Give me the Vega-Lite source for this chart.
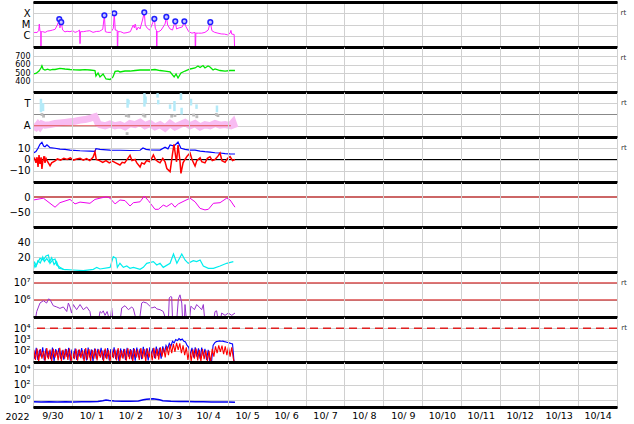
{
"$schema": "https://vega.github.io/schema/vega-lite/v6.json",
"padding": {"left": 0, "top": 1, "right": 0, "bottom": 0},
"background": "white",
"spacing": 0,
"bounds": "flush",
"datasets": {
"xr": [{"h":0,"v":1.7e-6},{"h":1.2,"v":2e-6},{"h":2.5,"v":1.9e-6},{"h":3.5,"v":3e-6},{"h":3.9,"v":1.1e-5},{"h":4.3,"v":2.5e-6},{"h":4.8,"v":2.3e-6},{"h":4.9,"v":1e-8},{"h":5.05,"v":2.3e-6},{"h":6,"v":2.3e-6},{"h":7.5,"v":2e-6},{"h":9,"v":2.6e-6},{"h":10.5,"v":2.8e-6},{"h":12,"v":3.2e-6},{"h":13.6,"v":3.7e-6},{"h":15,"v":9e-6},{"h":16.2,"v":3.1e-5},{"h":16.6,"v":5e-6},{"h":17.4,"v":1.6e-5},{"h":18.3,"v":3.2e-6},{"h":19.7,"v":2.2e-6},{"h":21,"v":2.5e-6},{"h":22.8,"v":2.3e-6},{"h":24.5,"v":2.8e-6},{"h":25.9,"v":2e-6},{"h":27.5,"v":2.4e-6},{"h":28.7,"v":3.2e-6},{"h":29,"v":2e-7},{"h":29.3,"v":2.3e-6},{"h":31,"v":2.3e-6},{"h":33,"v":2.6e-6},{"h":35,"v":2.8e-6},{"h":37,"v":2e-6},{"h":39,"v":2.4e-6},{"h":41,"v":2.5e-6},{"h":43,"v":3.7e-6},{"h":44,"v":6.6e-5},{"h":44.6,"v":2.3e-6},{"h":46,"v":2e-6},{"h":48,"v":2e-6},{"h":49.5,"v":4.6e-6},{"h":50.1,"v":1e-4},{"h":50.7,"v":3.2e-6},{"h":51.9,"v":3e-6},{"h":52.1,"v":1e-8},{"h":52.4,"v":2.3e-6},{"h":54,"v":2.3e-6},{"h":56,"v":1.7e-6},{"h":58,"v":1.9e-6},{"h":60,"v":2.3e-6},{"h":61.8,"v":9e-6},{"h":62.5,"v":5e-6},{"h":63,"v":1.1e-5},{"h":63.9,"v":3.2e-6},{"h":65,"v":6e-6},{"h":66,"v":4e-6},{"h":67.5,"v":2.5e-5},{"h":68.6,"v":1.2e-4},{"h":69.2,"v":9e-6},{"h":70.5,"v":4.6e-6},{"h":72,"v":3.2e-6},{"h":73.5,"v":1.1e-5},{"h":74.8,"v":3.2e-5},{"h":75.4,"v":4.6e-6},{"h":76.1,"v":3e-6},{"h":76.3,"v":1e-8},{"h":76.5,"v":2.3e-6},{"h":77.5,"v":2.3e-6},{"h":79,"v":3.2e-6},{"h":81.4,"v":1.1e-5},{"h":82.2,"v":4.7e-5},{"h":83,"v":9e-6},{"h":84.5,"v":4e-6},{"h":86,"v":3.2e-6},{"h":86.9,"v":9e-6},{"h":87.7,"v":1.9e-5},{"h":88.5,"v":4e-6},{"h":90,"v":5e-6},{"h":92,"v":6e-6},{"h":93.3,"v":1.9e-5},{"h":94.3,"v":6.4e-6},{"h":96,"v":2.3e-6},{"h":98,"v":1.7e-6},{"h":99.9,"v":2e-6},{"h":100.1,"v":1e-8},{"h":100.4,"v":1.7e-6},{"h":102,"v":1.7e-6},{"h":104,"v":1.7e-6},{"h":106,"v":2e-6},{"h":108,"v":3.2e-6},{"h":109.3,"v":1.6e-5},{"h":110.3,"v":2.8e-6},{"h":112,"v":2e-6},{"h":114,"v":1.7e-6},{"h":116,"v":1.45e-6},{"h":118,"v":1.4e-6},{"h":120,"v":1.2e-6},{"h":121.5,"v":1.7e-6},{"h":122,"v":3e-6},{"h":122.5,"v":1.4e-6},{"h":124,"v":1.3e-6},{"h":124.5,"v":1e-8}],
"fl": [{"h":16.2,"v":3.1e-5},{"h":17.4,"v":1.6e-5},{"h":44,"v":6.6e-5},{"h":50.1,"v":1e-4},{"h":68.6,"v":1.2e-4},{"h":74.8,"v":3.2e-5},{"h":82.2,"v":4.7e-5},{"h":87.7,"v":1.9e-5},{"h":93.3,"v":1.9e-5},{"h":109.3,"v":1.6e-5}],
"sw": [{"h":0,"v":491},{"h":1.8,"v":497},{"h":3.7,"v":526},{"h":4.9,"v":562},{"h":5.5,"v":589},{"h":6.2,"v":550},{"h":7.4,"v":538},{"h":9,"v":548},{"h":10.5,"v":538},{"h":12,"v":546},{"h":13.6,"v":544},{"h":16.6,"v":558},{"h":19.7,"v":550},{"h":22.8,"v":544},{"h":25.9,"v":540},{"h":29,"v":538},{"h":32,"v":542},{"h":35.1,"v":538},{"h":38.2,"v":532},{"h":38.8,"v":467},{"h":40.1,"v":503},{"h":41.3,"v":456},{"h":43.2,"v":491},{"h":45,"v":432},{"h":47.5,"v":426},{"h":49.3,"v":456},{"h":50.6,"v":521},{"h":52.4,"v":526},{"h":53.6,"v":515},{"h":56.7,"v":526},{"h":59.8,"v":526},{"h":62.9,"v":532},{"h":66,"v":538},{"h":69,"v":538},{"h":72.1,"v":538},{"h":75.2,"v":544},{"h":78.3,"v":532},{"h":81.4,"v":526},{"h":84.5,"v":515},{"h":87,"v":456},{"h":88.2,"v":491},{"h":89.4,"v":444},{"h":91.2,"v":503},{"h":93.7,"v":526},{"h":96.8,"v":550},{"h":99.9,"v":562},{"h":101.7,"v":585},{"h":103,"v":568},{"h":104.8,"v":591},{"h":106,"v":562},{"h":107.9,"v":585},{"h":109.1,"v":574},{"h":111,"v":538},{"h":112.2,"v":550},{"h":115.3,"v":532},{"h":118.4,"v":526},{"h":121.5,"v":532},{"h":124.5,"v":532}],
"pk": [{"h":0,"v":1.0},{"h":1.8,"v":0.85},{"h":3.1,"v":1.1},{"h":4.3,"v":0.9},{"h":5.5,"v":1.15},{"h":7.4,"v":1.05},{"h":10.5,"v":1.1},{"h":13.6,"v":1.2},{"h":16.6,"v":1.25},{"h":19.7,"v":1.3},{"h":22.8,"v":1.35},{"h":25.9,"v":1.4},{"h":29,"v":1.5},{"h":32,"v":1.55},{"h":35.1,"v":1.65},{"h":37,"v":1.75},{"h":38.2,"v":1.8},{"h":39.5,"v":1.4},{"h":40.1,"v":1.2},{"h":41.3,"v":1.1},{"h":44.4,"v":1.0},{"h":47.5,"v":1.15},{"h":50.6,"v":1.0},{"h":53.6,"v":1.1},{"h":56.7,"v":0.9},{"h":59.8,"v":1.2},{"h":62.9,"v":1.1},{"h":66,"v":1.3},{"h":69,"v":1.0},{"h":72.1,"v":1.2},{"h":75.2,"v":0.9},{"h":78.3,"v":1.1},{"h":81.4,"v":0.8},{"h":84.5,"v":1.2},{"h":87.5,"v":0.9},{"h":90.6,"v":1.1},{"h":93.7,"v":1.3},{"h":96.8,"v":1.0},{"h":99.9,"v":1.2},{"h":103,"v":0.9},{"h":106,"v":1.1},{"h":109.1,"v":1.0},{"h":112.2,"v":1.2},{"h":115.3,"v":1.05},{"h":118.4,"v":1.1},{"h":121.5,"v":1.0},{"h":123.3,"v":1.3},{"h":124.5,"v":0.8}],
"lb": [{"h":4.9,"v":2.2,"v2":3.4},{"h":6.2,"v":2.3,"v2":3.0},{"h":58.3,"v":2.6,"v2":3.4},{"h":58.9,"v":2.9,"v2":3.3},{"h":68.7,"v":2.7,"v2":3.9},{"h":69.4,"v":3.0,"v2":3.6},{"h":76.8,"v":3.5,"v2":3.9},{"h":77.2,"v":2.9,"v2":3.3},{"h":84.5,"v":2.5,"v2":2.9},{"h":87.2,"v":2.3,"v2":3.2},{"h":91.2,"v":3.3,"v2":3.9},{"h":91.6,"v":2.0,"v2":2.6},{"h":97.4,"v":2.8,"v2":3.4},{"h":100.8,"v":2.5,"v2":2.9},{"h":113.4,"v":2.2,"v2":2.8}],
"gr": [{"h":5.5,"v":2.0},{"h":6.5,"v":1.85},{"h":57.5,"v":1.9},{"h":59,"v":1.85},{"h":68,"v":1.95},{"h":69,"v":1.85},{"h":85.5,"v":1.85},{"h":87.5,"v":1.9},{"h":99,"v":1.95},{"h":101,"v":1.8},{"h":113,"v":2.0},{"h":114,"v":1.9},{"h":58,"v":0.3}],
"aline": [{"h":0,"v":1},{"h":122,"v":1}],
"mid3": [{"v":2}],
"bt": [{"h":0,"v":5.5},{"h":1.8,"v":7},{"h":3.1,"v":10},{"h":4.3,"v":13.5},{"h":5.5,"v":15.3},{"h":6.5,"v":12},{"h":7.4,"v":11.4},{"h":8.6,"v":13},{"h":10.5,"v":10.5},{"h":13.6,"v":10},{"h":16.6,"v":9.3},{"h":19.7,"v":9},{"h":22.8,"v":8.4},{"h":29,"v":7.8},{"h":35.1,"v":7.5},{"h":38.2,"v":7.3},{"h":38.8,"v":9.6},{"h":41.3,"v":9},{"h":47.5,"v":8.4},{"h":53.6,"v":8.2},{"h":59.8,"v":8},{"h":66,"v":8.2},{"h":67.8,"v":10.2},{"h":69.7,"v":9},{"h":72.1,"v":8.5},{"h":78.3,"v":8.4},{"h":81.4,"v":11},{"h":83.2,"v":9.5},{"h":84.5,"v":13},{"h":87,"v":12},{"h":89.4,"v":15.5},{"h":91.2,"v":10},{"h":93.7,"v":9},{"h":96.8,"v":8.4},{"h":99.9,"v":8.4},{"h":103,"v":7.5},{"h":106,"v":7},{"h":109.1,"v":6.6},{"h":112.2,"v":6},{"h":115.3,"v":5.8},{"h":118.4,"v":5.3},{"h":121.5,"v":5},{"h":124.5,"v":4.9}],
"bz": [{"h":0,"v":-0.7},{"h":1,"v":1},{"h":1.8,"v":-3},{"h":2.5,"v":2},{"h":3.1,"v":-6.7},{"h":3.7,"v":4},{"h":4.3,"v":-4},{"h":5,"v":2},{"h":5.5,"v":-8.4},{"h":6,"v":-2},{"h":6.8,"v":3},{"h":7.4,"v":-3},{"h":8,"v":1},{"h":9,"v":-2},{"h":10.5,"v":-5.5},{"h":11.5,"v":-3},{"h":13.6,"v":-1.3},{"h":15,"v":0.5},{"h":17,"v":-0.5},{"h":19,"v":1},{"h":21,"v":0},{"h":23,"v":1.5},{"h":25,"v":-0.5},{"h":27,"v":0.5},{"h":29,"v":1},{"h":31,"v":-0.5},{"h":33,"v":0.8},{"h":35,"v":-1},{"h":37,"v":2},{"h":38.2,"v":6.7},{"h":39,"v":0},{"h":41,"v":-1},{"h":43,"v":-2.5},{"h":45,"v":-1},{"h":47,"v":-3},{"h":49,"v":-1.5},{"h":51,"v":-3},{"h":53.6,"v":-4.9},{"h":55,"v":-2.5},{"h":56.5,"v":-3},{"h":58.5,"v":1},{"h":59.8,"v":3.7},{"h":61,"v":-1},{"h":62.9,"v":0},{"h":64,"v":-3},{"h":66,"v":-6.7},{"h":67,"v":-3},{"h":68.6,"v":-4},{"h":70,"v":-1},{"h":72.1,"v":-2},{"h":74.2,"v":4},{"h":75.5,"v":0},{"h":77,"v":-2},{"h":78.3,"v":-3},{"h":80,"v":1},{"h":81.4,"v":-2},{"h":82.5,"v":-8},{"h":84.5,"v":-10.8},{"h":86,"v":5},{"h":86.9,"v":13.5},{"h":88,"v":2},{"h":88.5,"v":-2},{"h":89.4,"v":12.9},{"h":90.5,"v":0},{"h":91.2,"v":-12.3},{"h":92.5,"v":-3},{"h":93.7,"v":0},{"h":95,"v":3},{"h":96.8,"v":5.8},{"h":98,"v":0},{"h":99.9,"v":-5.8},{"h":101,"v":-1},{"h":103,"v":1.5},{"h":104,"v":-2},{"h":106,"v":-3},{"h":107.5,"v":1},{"h":109.1,"v":2.5},{"h":110.5,"v":-1},{"h":112.2,"v":0},{"h":114,"v":3},{"h":115.3,"v":5.8},{"h":116.5,"v":-1},{"h":118.4,"v":-2.5},{"h":120,"v":1},{"h":121.5,"v":2.5},{"h":123,"v":-1},{"h":124.5,"v":0}],
"zero": [{"v":0}],
"dst": [{"h":0.2,"v":-10},{"h":6.4,"v":-4},{"h":13.6,"v":-34},{"h":16.6,"v":-19},{"h":22.8,"v":-8},{"h":25.9,"v":-23},{"h":29,"v":-17},{"h":35.1,"v":-21},{"h":38.2,"v":-8},{"h":41.3,"v":-4},{"h":45.4,"v":1},{"h":47.5,"v":-4},{"h":50.6,"v":-23},{"h":53.6,"v":-10},{"h":56.7,"v":-12},{"h":59.8,"v":-30},{"h":61.9,"v":-19},{"h":66,"v":-16},{"h":68.6,"v":3},{"h":71.1,"v":-12},{"h":75.2,"v":-41},{"h":77.3,"v":-41},{"h":80.3,"v":-27},{"h":82.4,"v":-32},{"h":85.5,"v":-21},{"h":87.5,"v":-34},{"h":89.6,"v":-23},{"h":93.7,"v":-12},{"h":96.8,"v":-4},{"h":99.9,"v":-16},{"h":103,"v":-38},{"h":106,"v":-43},{"h":108.1,"v":-41},{"h":111.2,"v":-21},{"h":115.3,"v":-19},{"h":119.4,"v":-4},{"h":121.5,"v":-10},{"h":124.5,"v":-34}],
"np": [{"s":"a","h":0.2,"v":13.8},{"s":"a","h":1.2,"v":6.2},{"s":"a","h":2.7,"v":11.6},{"s":"a","h":4.3,"v":18.2},{"s":"a","h":6.4,"v":16},{"s":"a","h":8,"v":21.3},{"s":"a","h":9.5,"v":22.7},{"s":"a","h":10.5,"v":11.6},{"s":"a","h":12.1,"v":16},{"s":"a","h":13.6,"v":17.3},{"s":"a","h":14.6,"v":9.3},{"s":"a","h":16.6,"v":6.2},{"s":"a","h":18.7,"v":3.6},{"s":"a","h":24.8,"v":2.7},{"s":"a","h":31,"v":1.8},{"s":"a","h":37.2,"v":3.6},{"s":"a","h":39.3,"v":6.2},{"s":"a","h":41.3,"v":4},{"s":"a","h":47.5,"v":6.2},{"s":"a","h":49.5,"v":20.4},{"s":"a","h":51.2,"v":18.2},{"s":"a","h":52,"v":6.2},{"s":"a","h":53.6,"v":11.6},{"s":"a","h":55.7,"v":6.2},{"s":"a","h":57.8,"v":8},{"s":"a","h":59.8,"v":5},{"s":"a","h":61.9,"v":6.2},{"s":"a","h":66,"v":3.6},{"s":"a","h":68,"v":6.2},{"s":"a","h":70.1,"v":11.6},{"s":"a","h":74.2,"v":13.8},{"s":"a","h":76.3,"v":9.3},{"s":"a","h":78.3,"v":11.6},{"s":"a","h":80.3,"v":6.2},{"s":"a","h":84.5,"v":11.6},{"s":"a","h":86.6,"v":24},{"s":"a","h":88.7,"v":11.6},{"s":"a","h":91.7,"v":24},{"s":"a","h":93.7,"v":16},{"s":"a","h":95.7,"v":11.6},{"s":"a","h":98.8,"v":15.1},{"s":"a","h":100.9,"v":13.8},{"s":"a","h":103,"v":16},{"s":"a","h":105,"v":8},{"s":"a","h":108.1,"v":4.9},{"s":"a","h":111.2,"v":4.9},{"s":"a","h":115.3,"v":8},{"s":"a","h":119.4,"v":11.6},{"s":"a","h":123.5,"v":13.8},{"s":"b","h":0,"v":10},{"s":"b","h":1,"v":13},{"s":"b","h":2,"v":8},{"s":"b","h":3,"v":15},{"s":"b","h":4.5,"v":12},{"s":"b","h":6,"v":20},{"s":"b","h":7,"v":14},{"s":"b","h":8.5,"v":18},{"s":"b","h":10,"v":13},{"s":"b","h":11.5,"v":19},{"s":"b","h":13,"v":10},{"s":"b","h":14.5,"v":14},{"s":"b","h":16,"v":5},{"s":"b","h":18,"v":4},{"s":"b","h":20,"v":3}],
"el": [{"h":0.2,"v":5e4},{"h":1.2,"v":5e4},{"h":2.3,"v":2.1e5},{"h":4.3,"v":6.6e5},{"h":6.4,"v":9.1e5},{"h":8.4,"v":6.6e5},{"h":9.5,"v":1.15e6},{"h":10.5,"v":1.05e6},{"h":12.5,"v":4.6e5},{"h":14.6,"v":3.9e5},{"h":16.6,"v":3.2e5},{"h":18.7,"v":3.9e5},{"h":20.8,"v":2.1e5},{"h":21.8,"v":6.6e5},{"h":22.8,"v":3.9e5},{"h":23.8,"v":1.7e5},{"h":24.8,"v":5.4e5},{"h":26.9,"v":2.7e5},{"h":29,"v":5.4e5},{"h":31,"v":2.7e5},{"h":33.1,"v":3.9e5},{"h":35.1,"v":2.1e5},{"h":36.2,"v":5e4},{"h":40.3,"v":5e4},{"h":41.3,"v":2.1e5},{"h":42.3,"v":1.7e5},{"h":43.3,"v":2.3e5},{"h":44.4,"v":1.25e5},{"h":45.7,"v":2.1e5},{"h":47.5,"v":5e4},{"h":48.5,"v":3.4e5},{"h":49.5,"v":5e4},{"h":53.6,"v":5e4},{"h":54.7,"v":3.4e5},{"h":56.7,"v":4.6e5},{"h":58.8,"v":2.7e5},{"h":60.9,"v":3.9e5},{"h":61.9,"v":3e5},{"h":62.9,"v":1.25e5},{"h":63.9,"v":5e4},{"h":65.5,"v":5e4},{"h":67,"v":6.6e5},{"h":68,"v":7.6e5},{"h":70.1,"v":6.6e5},{"h":72.1,"v":4.3e5},{"h":73.2,"v":3.4e5},{"h":75.2,"v":3.9e5},{"h":76.3,"v":3e5},{"h":78.3,"v":2.7e5},{"h":80.3,"v":2.1e5},{"h":82.4,"v":5e4},{"h":83.4,"v":5e4},{"h":84,"v":1.3e6},{"h":84.8,"v":1.6e6},{"h":85.5,"v":1.5e6},{"h":86.1,"v":5e4},{"h":88.5,"v":5e4},{"h":89.6,"v":1.15e6},{"h":90.6,"v":2e6},{"h":91.7,"v":6.6e5},{"h":92.3,"v":5e4},{"h":93.3,"v":5e4},{"h":93.7,"v":5.4e5},{"h":94.7,"v":5e4},{"h":96.4,"v":5e4},{"h":97.3,"v":4.3e5},{"h":98.5,"v":3.4e5},{"h":99.5,"v":2.7e5},{"h":100.9,"v":5.4e5},{"h":103,"v":3.4e5},{"h":104,"v":2.7e5},{"h":105,"v":5.4e5},{"h":106,"v":5e4},{"h":111.2,"v":5e4},{"h":112.2,"v":2.1e5},{"h":113.2,"v":2.3e5},{"h":114.3,"v":5e4},{"h":115.3,"v":5e4},{"h":116.3,"v":1.7e5},{"h":118.4,"v":1.25e5},{"h":120.4,"v":1.7e5},{"h":122.5,"v":1.25e5},{"h":124.5,"v":1.7e5}],
"ref7": [{"v":1e6},{"v":1e7}],
"ref8": [{"v":1e4}],
"pb": [{"h":0,"v":150},{"h":1,"v":20},{"h":2,"v":180},{"h":3,"v":15},{"h":4,"v":120},{"h":5,"v":30},{"h":6,"v":200},{"h":7,"v":14},{"h":8,"v":160},{"h":9,"v":25},{"h":10,"v":100},{"h":11,"v":18},{"h":12,"v":190},{"h":13,"v":12},{"h":14,"v":140},{"h":15,"v":35},{"h":16,"v":170},{"h":17,"v":20},{"h":18,"v":110},{"h":19,"v":16},{"h":20,"v":150},{"h":21,"v":28},{"h":22,"v":180},{"h":23,"v":13},{"h":24,"v":130},{"h":25,"v":22},{"h":26,"v":160},{"h":27,"v":15},{"h":28,"v":120},{"h":29,"v":30},{"h":30,"v":170},{"h":31,"v":18},{"h":32,"v":140},{"h":33,"v":14},{"h":34,"v":190},{"h":35,"v":25},{"h":36,"v":130},{"h":37,"v":12},{"h":38,"v":160},{"h":39,"v":20},{"h":40,"v":150},{"h":41,"v":35},{"h":42,"v":180},{"h":43,"v":16},{"h":44,"v":120},{"h":45,"v":22},{"h":46,"v":170},{"h":47,"v":14},{"h":48,"v":140},{"h":49,"v":28},{"h":50,"v":200},{"h":51,"v":18},{"h":52,"v":130},{"h":53,"v":12},{"h":54,"v":160},{"h":55,"v":24},{"h":56,"v":150},{"h":57,"v":15},{"h":58,"v":180},{"h":59,"v":30},{"h":60,"v":140},{"h":61,"v":17},{"h":62,"v":170},{"h":63,"v":13},{"h":64,"v":190},{"h":65,"v":26},{"h":66,"v":150},{"h":67,"v":18},{"h":68,"v":220},{"h":69,"v":30},{"h":70,"v":160},{"h":71,"v":14},{"h":72,"v":200},{"h":73,"v":40},{"h":74,"v":170},{"h":75,"v":22},{"h":76,"v":230},{"h":77,"v":35},{"h":78,"v":180},{"h":79,"v":20},{"h":80,"v":250},{"h":81,"v":60},{"h":82,"v":300},{"h":83,"v":150},{"h":84,"v":450},{"h":85,"v":250},{"h":86,"v":700},{"h":87,"v":500},{"h":88,"v":1000},{"h":89,"v":800},{"h":90,"v":1200},{"h":91,"v":900},{"h":92,"v":1100},{"h":93,"v":700},{"h":94,"v":600},{"h":95,"v":300},{"h":96,"v":200},{"h":97,"v":40},{"h":98,"v":180},{"h":99,"v":25},{"h":100,"v":200},{"h":101,"v":30},{"h":102,"v":160},{"h":103,"v":20},{"h":104,"v":190},{"h":105,"v":35},{"h":106,"v":150},{"h":107,"v":15},{"h":108,"v":120},{"h":109,"v":12},{"h":110,"v":8},{"h":111,"v":300},{"h":112,"v":500},{"h":113,"v":650},{"h":114,"v":700},{"h":115,"v":750},{"h":116,"v":700},{"h":117,"v":720},{"h":118,"v":650},{"h":119,"v":600},{"h":120,"v":550},{"h":121,"v":500},{"h":122,"v":450},{"h":123,"v":400},{"h":124,"v":8}],
"pr": [{"h":0.5,"v":120},{"h":1.5,"v":15},{"h":2.5,"v":160},{"h":3.5,"v":12},{"h":4.5,"v":140},{"h":5.5,"v":20},{"h":6.5,"v":100},{"h":7.5,"v":13},{"h":8.5,"v":170},{"h":9.5,"v":18},{"h":10.5,"v":130},{"h":11.5,"v":11},{"h":12.5,"v":150},{"h":13.5,"v":25},{"h":14.5,"v":110},{"h":15.5,"v":14},{"h":16.5,"v":180},{"h":17.5,"v":12},{"h":18.5,"v":120},{"h":19.5,"v":20},{"h":20.5,"v":140},{"h":21.5,"v":15},{"h":22.5,"v":160},{"h":23.5,"v":11},{"h":24.5,"v":100},{"h":25.5,"v":18},{"h":26.5,"v":150},{"h":27.5,"v":13},{"h":28.5,"v":130},{"h":29.5,"v":22},{"h":30.5,"v":110},{"h":31.5,"v":12},{"h":32.5,"v":170},{"h":33.5,"v":16},{"h":34.5,"v":140},{"h":35.5,"v":11},{"h":36.5,"v":120},{"h":37.5,"v":20},{"h":38.5,"v":150},{"h":39.5,"v":14},{"h":40.5,"v":130},{"h":41.5,"v":25},{"h":42.5,"v":110},{"h":43.5,"v":12},{"h":44.5,"v":160},{"h":45.5,"v":18},{"h":46.5,"v":120},{"h":47.5,"v":11},{"h":48.5,"v":150},{"h":49.5,"v":22},{"h":50.5,"v":130},{"h":51.5,"v":14},{"h":52.5,"v":170},{"h":53.5,"v":12},{"h":54.5,"v":110},{"h":55.5,"v":20},{"h":56.5,"v":140},{"h":57.5,"v":13},{"h":58.5,"v":160},{"h":59.5,"v":18},{"h":60.5,"v":120},{"h":61.5,"v":11},{"h":62.5,"v":150},{"h":63.5,"v":24},{"h":64.5,"v":130},{"h":65.5,"v":15},{"h":66.5,"v":170},{"h":67.5,"v":20},{"h":68.5,"v":140},{"h":69.5,"v":12},{"h":70.5,"v":160},{"h":71.5,"v":25},{"h":72.5,"v":120},{"h":73.5,"v":14},{"h":74.5,"v":180},{"h":75.5,"v":20},{"h":76.5,"v":150},{"h":77.5,"v":16},{"h":78.5,"v":200},{"h":79.5,"v":30},{"h":80.5,"v":180},{"h":81.5,"v":25},{"h":82.5,"v":250},{"h":83.5,"v":40},{"h":84.5,"v":350},{"h":85.5,"v":60},{"h":86.5,"v":400},{"h":87.5,"v":80},{"h":88.5,"v":500},{"h":89.5,"v":120},{"h":90.5,"v":450},{"h":91.5,"v":60},{"h":92.5,"v":300},{"h":93.5,"v":40},{"h":94.5,"v":200},{"h":95.5,"v":15},{"h":96.5,"v":150},{"h":97.5,"v":12},{"h":98.5,"v":130},{"h":99.5,"v":20},{"h":100.5,"v":160},{"h":101.5,"v":14},{"h":102.5,"v":120},{"h":103.5,"v":11},{"h":104.5,"v":140},{"h":105.5,"v":18},{"h":106.5,"v":110},{"h":107.5,"v":12},{"h":108.5,"v":100},{"h":109.5,"v":9},{"h":110.5,"v":150},{"h":111.5,"v":30},{"h":112.5,"v":250},{"h":113.5,"v":60},{"h":114.5,"v":300},{"h":115.5,"v":80},{"h":116.5,"v":280},{"h":117.5,"v":50},{"h":118.5,"v":250},{"h":119.5,"v":40},{"h":120.5,"v":220},{"h":121.5,"v":30},{"h":122.5,"v":200},{"h":123.5,"v":20},{"h":124.2,"v":8}],
"lo": [{"h":0,"v":0.5},{"h":5,"v":0.48},{"h":10,"v":0.5},{"h":15,"v":0.47},{"h":20,"v":0.5},{"h":25,"v":0.48},{"h":30,"v":0.5},{"h":35,"v":0.52},{"h":40,"v":0.55},{"h":43,"v":0.7},{"h":45,"v":0.85},{"h":47,"v":0.75},{"h":50,"v":0.65},{"h":55,"v":0.6},{"h":60,"v":0.6},{"h":65,"v":0.65},{"h":68,"v":0.9},{"h":70,"v":1.1},{"h":72,"v":1.2},{"h":74,"v":1.3},{"h":76,"v":1.1},{"h":78,"v":0.9},{"h":80,"v":0.7},{"h":85,"v":0.6},{"h":90,"v":0.55},{"h":95,"v":0.55},{"h":100,"v":0.5},{"h":105,"v":0.5},{"h":110,"v":0.48},{"h":115,"v":0.45},{"h":120,"v":0.45},{"h":124.5,"v":0.43}]
},
"vconcat": [
{
 "width": 584, "height": 45,
 "title": {"text": "rt", "orient": "right", "anchor": "start", "angle": 0, "fontSize": 7, "fontWeight": "normal", "color": "#333", "offset": -2, "baseline": "top", "dy": 7},
 "encoding": {"y": {"field": "v", "type": "quantitative", "scale": {"type": "log", "domain": [1e-7, 1e-3], "nice": false}, "axis": {"values": [1e-6, 1e-5, 1e-4], "labelExpr": "datum.value < 3e-6 ? 'C' : datum.value < 3e-5 ? 'M' : 'X'", "title": null}}},
 "layer": [
  {"data": {"name": "xr"}, "mark": {"type": "line", "color": "#ff22ff", "strokeWidth": 1, "clip": true},
   "encoding": {"x": {"field": "h", "type": "quantitative", "scale": {"domain": [0, 360], "nice": false, "zero": false}, "axis": {"orient": "top", "values": [0,24,48,72,96,120,144,168,192,216,240,264,288,312,336,360], "labels": false, "ticks": false, "title": null, "domainWidth": 3, "domainColor": "#000", "grid": false, "zindex": 1}}}},
  {"data": {"name": "fl"}, "mark": {"type": "point", "shape": "circle", "filled": true, "fill": "#c8c8ff", "stroke": "#2020ff", "strokeWidth": 1.5, "size": 22, "opacity": 1},
   "encoding": {"x": {"field": "h", "type": "quantitative", "scale": {"domain": [0, 360], "nice": false, "zero": false}, "axis": {"orient": "bottom", "values": [0,24,48,72,96,120,144,168,192,216,240,264,288,312,336,360], "labels": false, "ticks": false, "title": null, "domainWidth": 3, "domainColor": "#000", "grid": true, "zindex": 1}}}}
 ],
 "resolve": {"axis": {"x": "independent"}}
},
{
 "width": 584, "height": 45,
 "title": {"text": "rt", "orient": "right", "anchor": "start", "angle": 0, "fontSize": 7, "fontWeight": "normal", "color": "#333", "offset": -2, "baseline": "top", "dy": 7},
 "data": {"name": "sw"},
 "mark": {"type": "line", "color": "#00e600", "strokeWidth": 1.3, "clip": true},
 "encoding": {
  "x": {"field": "h", "type": "quantitative", "scale": {"domain": [0, 360], "nice": false, "zero": false}, "axis": {"values": [0,24,48,72,96,120,144,168,192,216,240,264,288,312,336,360], "labels": false, "ticks": false, "title": null, "domainWidth": 3, "domainColor": "#000", "grid": true, "zindex": 1}},
  "y": {"field": "v", "type": "quantitative", "scale": {"domain": [278, 810], "nice": false, "zero": false}, "axis": {"values": [400, 500, 600, 700], "title": null, "labelFontSize": 8}}
 }
},
{
 "width": 584, "height": 45,
 "title": {"text": "rt", "orient": "right", "anchor": "start", "angle": 0, "fontSize": 7, "fontWeight": "normal", "color": "#333", "offset": -2, "baseline": "top", "dy": 7},
 "encoding": {
  "x": {"field": "h", "type": "quantitative", "scale": {"domain": [0, 360], "nice": false, "zero": false}, "axis": {"values": [0,24,48,72,96,120,144,168,192,216,240,264,288,312,336,360], "labels": false, "ticks": false, "title": null, "domainWidth": 3, "domainColor": "#000", "grid": true, "zindex": 1}},
  "y": {"field": "v", "type": "quantitative", "scale": {"domain": [0, 4], "nice": false, "zero": false}, "axis": {"values": [1, 3], "labelExpr": "datum.value == 1 ? 'A' : 'T'", "title": null}}
 },
 "layer": [
  {"data": {"name": "mid3"}, "mark": {"type": "rule", "color": "#888888", "strokeWidth": 1}, "encoding": {"x": null}},
  {"data": {"name": "gr"}, "mark": {"type": "square", "color": "#bbbbbb", "size": 8, "opacity": 1}},
  {"data": {"name": "lb"}, "mark": {"type": "rule", "color": "#b4eaf8", "strokeWidth": 2.5}, "encoding": {"y2": {"field": "v2"}}},
  {"data": {"name": "pk"}, "mark": {"type": "line", "color": "#f8bcf2", "strokeWidth": 7, "clip": true}},
  {"data": {"name": "aline"}, "mark": {"type": "line", "color": "#e05050", "strokeWidth": 1}}
 ]
},
{
 "width": 584, "height": 45,
 "title": {"text": "rt", "orient": "right", "anchor": "start", "angle": 0, "fontSize": 7, "fontWeight": "normal", "color": "#333", "offset": -2, "baseline": "top", "dy": 7},
 "encoding": {
  "x": {"field": "h", "type": "quantitative", "scale": {"domain": [0, 360], "nice": false, "zero": false}, "axis": {"values": [0,24,48,72,96,120,144,168,192,216,240,264,288,312,336,360], "labels": false, "ticks": false, "title": null, "domainWidth": 3, "domainColor": "#000", "grid": true, "zindex": 1}},
  "y": {"field": "v", "type": "quantitative", "scale": {"domain": [-20, 20], "nice": false}, "axis": {"values": [-10, 0, 10], "title": null}}
 },
 "layer": [
  {"data": {"name": "zero"}, "mark": {"type": "rule", "color": "#000000", "strokeWidth": 1}, "encoding": {"x": null}},
  {"data": {"name": "bt"}, "mark": {"type": "line", "color": "#0000ff", "strokeWidth": 1.2, "clip": true}},
  {"data": {"name": "bz"}, "mark": {"type": "line", "color": "#ff0000", "strokeWidth": 1.5, "clip": true}}
 ]
},
{
 "width": 584, "height": 45,
 "encoding": {
  "x": {"field": "h", "type": "quantitative", "scale": {"domain": [0, 360], "nice": false, "zero": false}, "axis": {"values": [0,24,48,72,96,120,144,168,192,216,240,264,288,312,336,360], "labels": false, "ticks": false, "title": null, "domainWidth": 3, "domainColor": "#000", "grid": true, "zindex": 1}},
  "y": {"field": "v", "type": "quantitative", "scale": {"domain": [-100, 50], "nice": false}, "axis": {"values": [-50, 0], "title": null}}
 },
 "layer": [
  {"data": {"name": "zero"}, "mark": {"type": "rule", "color": "#cc6666", "strokeWidth": 2}, "encoding": {"x": null}},
  {"data": {"name": "dst"}, "mark": {"type": "line", "color": "#ee00ee", "strokeWidth": 1, "clip": true}}
 ]
},
{
 "width": 584, "height": 45,
 "data": {"name": "np"},
 "mark": {"type": "line", "color": "#00eeee", "strokeWidth": 1.2, "clip": true},
 "encoding": {
  "x": {"field": "h", "type": "quantitative", "scale": {"domain": [0, 360], "nice": false, "zero": false}, "axis": {"values": [0,24,48,72,96,120,144,168,192,216,240,264,288,312,336,360], "labels": false, "ticks": false, "title": null, "domainWidth": 3, "domainColor": "#000", "grid": true, "zindex": 1}},
  "y": {"field": "v", "type": "quantitative", "scale": {"domain": [0, 60], "nice": false}, "axis": {"values": [20, 40], "title": null}},
  "detail": {"field": "s"}
 }
},
{
 "width": 584, "height": 45,
 "title": {"text": "rt", "orient": "right", "anchor": "start", "angle": 0, "fontSize": 7, "fontWeight": "normal", "color": "#333", "offset": -2, "baseline": "top", "dy": 7},
 "encoding": {
  "x": {"field": "h", "type": "quantitative", "scale": {"domain": [0, 360], "nice": false, "zero": false}, "axis": {"values": [0,24,48,72,96,120,144,168,192,216,240,264,288,312,336,360], "labels": false, "ticks": false, "title": null, "domainWidth": 3, "domainColor": "#000", "grid": true, "zindex": 1}},
  "y": {"field": "v", "type": "quantitative", "scale": {"type": "log", "domain": [1e5, 4.4e7], "nice": false}, "axis": {"values": [1e6, 1e7], "labelExpr": "datum.value < 3e6 ? '10⁶' : '10⁷'", "title": null}}
 },
 "layer": [
  {"data": {"name": "ref7"}, "mark": {"type": "rule", "color": "#cc0000", "strokeWidth": 1}, "encoding": {"x": null}},
  {"data": {"name": "el"}, "mark": {"type": "line", "color": "#9933cc", "strokeWidth": 1, "clip": true}}
 ]
},
{
 "width": 584, "height": 45,
 "title": {"text": "rt", "orient": "right", "anchor": "start", "angle": 0, "fontSize": 7, "fontWeight": "normal", "color": "#333", "offset": -2, "baseline": "top", "dy": 7},
 "encoding": {
  "x": {"field": "h", "type": "quantitative", "scale": {"domain": [0, 360], "nice": false, "zero": false}, "axis": {"values": [0,24,48,72,96,120,144,168,192,216,240,264,288,312,336,360], "labels": false, "ticks": false, "title": null, "domainWidth": 3, "domainColor": "#000", "grid": true, "zindex": 1}},
  "y": {"field": "v", "type": "quantitative", "scale": {"type": "log", "domain": [10, 1e5], "nice": false}, "axis": {"values": [100, 1000, 10000], "labelExpr": "datum.value < 300 ? '10²' : datum.value < 3000 ? '10³' : '10⁴'", "title": null}}
 },
 "layer": [
  {"data": {"name": "ref8"}, "mark": {"type": "rule", "color": "#e02020", "strokeWidth": 1.5, "strokeDash": [8, 5]}, "encoding": {"x": null}},
  {"data": {"name": "pb"}, "mark": {"type": "line", "color": "#0000ff", "strokeWidth": 1.1, "clip": true}},
  {"data": {"name": "pr"}, "mark": {"type": "line", "color": "#ff0000", "strokeWidth": 1.1, "clip": true}}
 ]
},
{
 "width": 584, "height": 45,
 "data": {"name": "lo"},
 "mark": {"type": "line", "color": "#0000ee", "strokeWidth": 1.5, "clip": true},
 "encoding": {
  "x": {"field": "h", "type": "quantitative", "scale": {"domain": [0, 360], "nice": false, "zero": false}, "axis": {"values": [0,24,48,72,96,120,144,168,192,216,240,264,288,312,336,360], "labelExpr": "['9/30','10/ 1','10/ 2','10/ 3','10/ 4','10/ 5','10/ 6','10/ 7','10/ 8','10/ 9','10/10','10/11','10/12','10/13','10/14',''][round(datum.value/24)]", "labelOffset": 19.5, "labelFlush": false, "labelOverlap": false, "labelBound": false, "labelFontSize": 9.5, "labelPadding": 3, "labelBaseline": "top", "ticks": false, "title": "2022", "titleX": -16, "titleY": 4, "titleAlign": "center", "titleBaseline": "top", "titleFontWeight": "normal", "titleFontSize": 9.5, "titleFont": "DejaVu Sans", "titleColor": "#000", "domainWidth": 3, "domainColor": "#000", "grid": true, "zindex": 1}},
  "y": {"field": "v", "type": "quantitative", "scale": {"type": "log", "domain": [0.1, 1e5], "nice": false}, "axis": {"values": [1, 100, 10000], "labelExpr": "datum.value < 10 ? '10⁰' : datum.value < 1000 ? '10²' : '10⁴'", "title": null}}
 }
}
],
"config": {
 "view": {"stroke": "#000000", "strokeWidth": 1},
 "axis": {"gridColor": "#d0d0d0", "gridWidth": 1, "gridOpacity": 1, "labelFont": "DejaVu Sans", "labelColor": "#000", "labelFontSize": 10, "ticks": false},
 "axisY": {"domain": false, "labelPadding": 3, "minExtent": 32, "maxExtent": 32, "labelOverlap": false},
 "title": {"font": "DejaVu Sans"}
}
}
